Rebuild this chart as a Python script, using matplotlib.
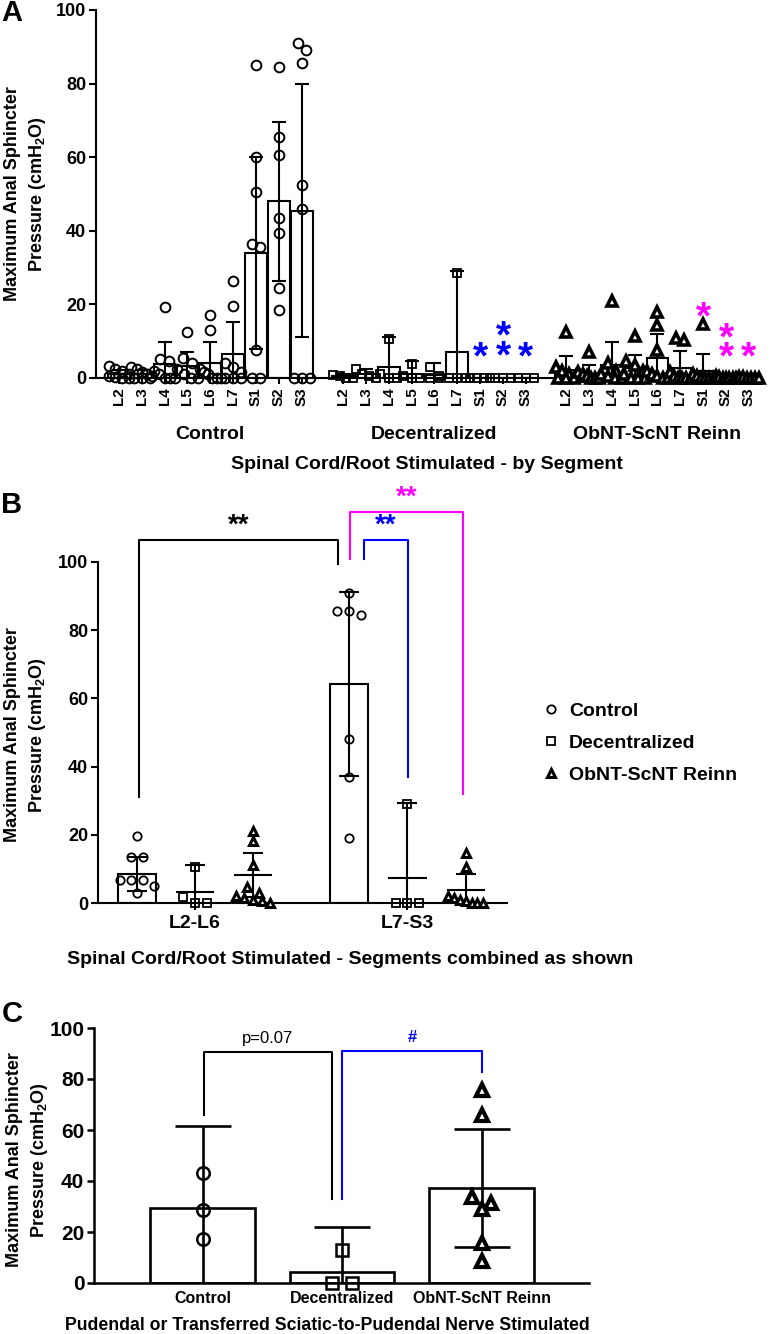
import numpy as np
import matplotlib
matplotlib.use("Agg")
import matplotlib.pyplot as plt
from matplotlib import font_manager as fm

plt.rcParams['font.family'] = ['Liberation Sans', 'DejaVu Sans']
plt.rcParams['font.weight'] = 'bold'
plt.rcParams['mathtext.default'] = 'regular'

try:
    fm.findfont(fm.FontProperties(family='Liberation Sans Narrow', weight='bold'),
                fallback_to_default=False)
    NARROW = ['Liberation Sans Narrow', 'Liberation Sans']
except Exception:
    NARROW = ['Liberation Sans', 'DejaVu Sans']

# ---------------- data: panel A (by segment) ----------------
segments = ['L2', 'L3', 'L4', 'L5', 'L6', 'L7', 'S1', 'S2', 'S3']
groups = ['Control', 'Decentralized', 'ObNT-ScNT Reinn']

ctrl_pts = [[3.2, 2.4, 1.8, 1.0, 0.6, 0.2, 0, 0],
            [3.0, 2.5, 1.6, 1.0, 0.5, 0, 0, 0],
            [19.4, 5.2, 4.5, 2.0, 1.0, 0, 0, 0],
            [12.6, 5.5, 4.0, 2.5, 1.0, 0, 0],
            [17.0, 13.0, 2.5, 1.5, 1.0, 0, 0, 0],
            [26.3, 19.5, 4.0, 3.0, 1.5, 0, 0, 0],
            [85.0, 60.0, 50.5, 36.5, 35.5, 7.5, 0, 0],
            [84.5, 65.5, 60.5, 43.5, 39.5, 24.5, 18.5],
            [91.0, 89.0, 85.5, 52.5, 46.0, 0, 0, 0]]
ctrl_mean = [1.2, 1.1, 3.8, 3.3, 4.0, 6.5, 34.0, 48.0, 45.5]
ctrl_err = [1.1, 1.0, 5.9, 3.8, 5.9, 8.8, 26.0, 21.7, 34.4]

dec_pts = [[0.8, 0.5, 0, 0],
           [2.4, 1.0, 0.5, 0],
           [10.5, 1.0, 0, 0],
           [3.8, 0.5, 0, 0],
           [3.0, 0.5, 0, 0],
           [28.6, 0, 0, 0],
           [0, 0, 0, 0],
           [0, 0, 0],
           [0, 0, 0]]
dec_mean = [0.6, 1.0, 2.9, 1.1, 0.9, 7.2, 0, 0, 0]
dec_err = [0.6, 1.4, 8.3, 3.5, 3.1, 21.8, 0, 0, 0]

obnt_pts = [[12.5, 3.0, 2.0, 1.0, 0.5, 0, 0, 0],
            [7.2, 1.5, 1.0, 0.5, 0, 0, 0],
            [21.0, 4.0, 2.0, 1.0, 0.5, 0, 0],
            [11.5, 4.5, 3.5, 2.0, 1.0, 0, 0, 0],
            [18.0, 14.5, 7.5, 2.0, 1.0, 0.5, 0, 0],
            [10.8, 10.3, 1.5, 0.5, 0, 0, 0, 0],
            [14.7, 1.0, 0.5, 0, 0, 0, 0],
            [0.5, 0.3, 0, 0, 0, 0, 0],
            [0.4, 0.2, 0, 0, 0, 0]]
obnt_mean = [2.3, 1.2, 3.5, 2.6, 5.4, 2.6, 2.0, 0.2, 0.2]
obnt_err = [3.8, 2.2, 6.4, 3.7, 6.6, 4.7, 4.4, 0.3, 0.3]

# significance asterisks above segments (value = height of the lowest asterisk)
star_dec_seg = ['S1', 'S2', 'S3']
star_dec_txt = ['*', '*\n*', '*']
star_dec_val = [8.6, 9.0, 8.6]
star_obnt_seg = ['S1', 'S2', 'S3']
star_obnt_txt = ['*', '*\n*', '*']
star_obnt_val = [19.4, 8.6, 8.6]

# ---------------- data: panel B (combined segments) ----------------
combined = ['L2-L6', 'L7-S3']
b_pts = {
    'Control': [[19.6, 13.4, 13.4, 6.7, 6.7, 6.7, 5.0, 2.9],
                [91.0, 85.5, 84.5, 85.5, 48.0, 37.0, 19.0]],
    'Decentralized': [[10.6, 1.9, 0, 0],
                      [29.0, 0, 0, 0]],
    'ObNT-ScNT Reinn': [[21.0, 18.2, 11.0, 4.7, 3.0, 2.0, 1.5, 1.0, 0.5, 0],
                        [14.7, 10.6, 2.0, 1.5, 1.0, 0.5, 0, 0, 0]],
}
b_mean = {'Control': [8.5, 64.2], 'Decentralized': [3.1, 7.3], 'ObNT-ScNT Reinn': [8.2, 3.8]}
b_err = {'Control': [5.0, 27.0], 'Decentralized': [7.9, 22.0], 'ObNT-ScNT Reinn': [6.5, 4.7]}

# ---------------- data: panel C (pudendal) ----------------
c_pts = [[43.0, 28.7, 17.2],
         [13.0, 0, 0],
         [75.7, 65.9, 33.9, 31.3, 29.0, 15.6, 8.8]]
c_mean = [29.6, 4.3, 37.2]
c_err = [32.1, 17.7, 23.0]

W, H = 771, 1334
fig = plt.figure(figsize=(W / 100, H / 100), dpi=100)


def rect(l, r, t, b):
    return [l / W, 1 - b / H, (r - l) / W, (b - t) / H]


def spread(vals, tol, step, maxw):
    # place overlapping points side by side, like a column scatter
    vals = np.asarray(vals, float)
    offs = np.zeros(len(vals))
    clusters = []
    for i in np.argsort(-vals, kind='stable'):
        if clusters and vals[clusters[-1][0]] - vals[i] < tol:
            clusters[-1].append(i)
        else:
            clusters.append([i])
    for c in clusters:
        n = len(c)
        st = min(step, maxw / (n - 1)) if n > 1 else 0
        for k, i in enumerate(c):
            offs[i] = (k - (n - 1) / 2) * st
    return offs


def style_axis(ax, lw=1.5):
    for s in ['top', 'right']:
        ax.spines[s].set_visible(False)
    for s in ['left', 'bottom']:
        ax.spines[s].set_linewidth(lw)
    ax.tick_params(width=lw, color='black')


marker_style = {
    'Control': dict(marker='o', mfc='none', mec='black'),
    'Decentralized': dict(marker='s', mfc='none', mec='black'),
    'ObNT-ScNT Reinn': dict(marker='^', mfc='white', mec='black'),
}

# ======================= panel A =======================
axA = fig.add_axes(rect(96, 758, 10, 378))
style_axis(axA)
group_start = [0, 9.8, 19.55]
A_sets = [(ctrl_pts, ctrl_mean, ctrl_err), (dec_pts, dec_mean, dec_err),
          (obnt_pts, obnt_mean, obnt_err)]
xticks, xlabels = [], []
for g, (pts, means, errs) in enumerate(A_sets):
    xs = group_start[g] + np.arange(len(segments))
    axA.bar(xs, means, width=0.95, facecolor='white', edgecolor='black', lw=1.5, zorder=2)
    axA.errorbar(xs, means, yerr=errs, fmt='none', ecolor='black', elinewidth=1.5,
                 capsize=5, capthick=1.5, zorder=3)
    name = groups[g]
    if name == 'ObNT-ScNT Reinn':
        ms, mew = 7, 2.6
    elif name == 'Decentralized':
        ms, mew = 6, 1.3
    else:
        ms, mew = 7, 1.4
    for x, p in zip(xs, pts):
        off = spread(p, 2.6, 0.36, 0.9)
        axA.plot(x + off, p, ls='none', ms=ms, mew=mew, zorder=4, clip_on=False,
                 **marker_style[name])
    xticks += list(xs)
    xlabels += segments
    axA.annotate(name, xy=(xs.mean(), 0), xycoords=('data', 'axes fraction'),
                 xytext=(0, -41), textcoords='offset points', ha='center', va='center',
                 fontsize=14)

for segs, txts, vals, col, g in [(star_dec_seg, star_dec_txt, star_dec_val, '#0000ff', 1),
                                 (star_obnt_seg, star_obnt_txt, star_obnt_val, '#ff00ff', 2)]:
    for s, t, v in zip(segs, txts, vals):
        x = group_start[g] + segments.index(s)
        axA.annotate(t, xy=(x, v), xytext=(0, -16), textcoords='offset points',
                     ha='center', va='baseline', color=col, fontsize=28,
                     linespacing=0.4)

axA.set_xlim(-1.0, 27.95)
axA.set_ylim(0, 100)
axA.set_yticks(np.arange(0, 101, 20))
axA.tick_params(axis='y', labelsize=13, length=5, pad=2)
axA.set_xticks(xticks)
axA.set_xticklabels(xlabels, rotation=90, fontsize=11)
axA.tick_params(axis='x', length=4, pad=3)
axA.annotate('Spinal Cord/Root Stimulated - by Segment', xy=(0.5, 0),
             xycoords='axes fraction', xytext=(0, -62), textcoords='offset points',
             ha='center', va='center', fontsize=14)
fig.text(26 / W, 1 - 194 / H, 'Maximum Anal Sphincter\nPressure (cmH$_2$O)', rotation=90,
         ha='center', va='center', multialignment='center', fontsize=13, linespacing=1.35)
fig.text(12 / W, 1 - 13 / H, 'A', fontsize=21, ha='center', va='center')

# ======================= panel B =======================
axB = fig.add_axes(rect(98, 507, 562, 903))
style_axis(axB)
b_start = [0, 3.655]
for g, name in enumerate(groups):
    xs = np.array([b_start[0] + g, b_start[1] + g * 1.008])
    means = b_mean[name]
    errs = b_err[name]
    if name == 'Control':
        axB.bar(xs, means, width=0.64, facecolor='white', edgecolor='black', lw=1.5, zorder=2)
    else:
        axB.hlines(means, xs - 0.33, xs + 0.33, color='black', lw=1.5, zorder=3)
    axB.errorbar(xs, means, yerr=errs, fmt='none', ecolor='black', elinewidth=1.5,
                 capsize=7.5, capthick=1.5, zorder=3)
    mew = 2.2 if name == 'ObNT-ScNT Reinn' else 1.3
    for k, x in enumerate(xs):
        p = b_pts[name][k]
        off = spread(p, 2.6, 0.2, 0.6)
        axB.plot(x + off, p, ls='none', ms=6, mew=mew, zorder=4, clip_on=False,
                 label=name if k == 0 else None, **marker_style[name])

axB.set_xlim(-0.672, 6.38)
axB.set_ylim(0, 100)
axB.set_yticks(np.arange(0, 101, 20))
axB.tick_params(axis='y', labelsize=13, length=5, pad=2)
axB.set_xticks([1, b_start[1] + 1.008])
axB.set_xticklabels(combined, fontsize=14, family=NARROW)
axB.tick_params(axis='x', length=5, pad=4)

# comparison brackets: (x left, x right, top, left foot, right foot, colour, label, label y)
b_brackets = [(0.034, 3.466, 106.5, 31, 99.5, 'black', '**', 108.5),
              (3.914, 4.672, 106.5, 101, 37, '#0000ff', '**', 108.5),
              (3.672, 5.62, 114.7, 101, 32, '#ff00ff', '**', 116.7)]
for x1, x2, top, f1, f2, col, lab, ly in b_brackets:
    axB.plot([x1, x1, x2, x2], [f1, top, top, f2], color=col, lw=1.5, clip_on=False)
    axB.text((x1 + x2) / 2, ly, lab, color=col, ha='center', va='baseline', fontsize=20)

axB.annotate('Spinal Cord/Root Stimulated - Segments combined as shown', xy=(0, 0),
             xycoords='axes fraction', xytext=((350 - 98) * 0.72, -56 * 0.72),
             textcoords='offset points', ha='center', va='center', fontsize=14,
             family=NARROW)
fig.text(26 / W, 1 - 735 / H, 'Maximum Anal Sphincter\nPressure (cmH$_2$O)', rotation=90,
         ha='center', va='center', multialignment='center', fontsize=13, linespacing=1.35)
fig.text(12 / W, 1 - 505 / H, 'B', fontsize=21, ha='center', va='center')
axB.legend(loc='center left', bbox_to_anchor=(532 / W, 1 - 743 / H),
           bbox_transform=fig.transFigure, frameon=False, fontsize=14,
           handletextpad=0.4, labelspacing=0.75, handlelength=1.0, borderpad=0)

# ======================= panel C =======================
axC = fig.add_axes(rect(94, 589, 1028, 1283))
style_axis(axC, lw=1.8)
cx = np.arange(len(groups))
axC.bar(cx, c_mean, width=0.75, facecolor='white', edgecolor='black', lw=1.9, zorder=2)
axC.errorbar(cx, c_mean, yerr=c_err, fmt='none', ecolor='black', elinewidth=1.9,
             capsize=20, capthick=1.9, zorder=3)
for g, name in enumerate(groups):
    p = c_pts[g]
    off = spread(p, 4.5, 0.14, 0.3)
    mew = 3.0 if name == 'ObNT-ScNT Reinn' else 1.8
    axC.plot(cx[g] + off, p, ls='none', ms=9, mew=mew, zorder=4, clip_on=False,
             **marker_style[name])
axC.set_xlim(-0.78, 2.77)
axC.set_ylim(0, 100)
axC.set_yticks(np.arange(0, 101, 20))
axC.set_yticklabels([str(v) for v in range(0, 101, 20)], family=NARROW, fontsize=15)
axC.tick_params(axis='y', length=5, pad=2)
axC.set_xticks(cx)
axC.set_xticklabels(groups, family=NARROW, fontsize=11.5)
axC.tick_params(axis='x', length=0, pad=6)

c_brackets = [(0.007, 0.925, 90.6, 66, 33, 'black', 'p=0.07', 'normal'),
              (1.0, 2.0, 91.0, 33, 82.7, '#0000ff', '#', 'bold')]
for x1, x2, top, f1, f2, col, lab, wt in c_brackets:
    axC.plot([x1, x1, x2, x2], [f1, top, top, f2], color=col, lw=1.5, clip_on=False)
    axC.text((x1 + x2) / 2, top + 2.5, lab, color=col, ha='center', va='bottom',
             fontsize=12, family=NARROW, fontweight=wt)

axC.annotate('Pudendal or Transferred Sciatic-to-Pudendal Nerve Stimulated', xy=(0, 0),
             xycoords='axes fraction', xytext=((327 - 94) * 0.72, -42 * 0.72),
             textcoords='offset points', ha='center', va='center', fontsize=12.7,
             family=NARROW)
fig.text(28 / W, 1 - 1160 / H, 'Maximum Anal Sphincter\nPressure (cmH$_2$O)', rotation=90,
         ha='center', va='center', multialignment='center', fontsize=13, linespacing=1.35)
fig.text(12 / W, 1 - 1014 / H, 'C', fontsize=21, ha='center', va='center')

fig.savefig('out.png', dpi=100)
